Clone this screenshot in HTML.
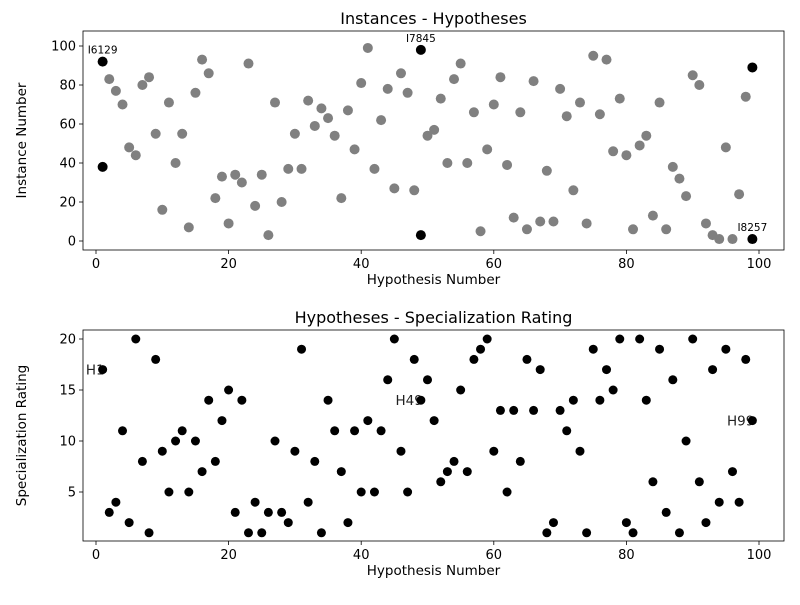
<!DOCTYPE html>
<html><head><meta charset="utf-8"><style>
body{margin:0;background:#fff}
svg{font-family:"DejaVu Sans","Liberation Sans",sans-serif}
</style></head><body>
<svg id="c" width="800" height="600" xmlns="http://www.w3.org/2000/svg"></svg>
<script>
const hypX = [];
for (let i = 1; i <= 99; i++) hypX.push(i);
const grayX = [2,3,4,5,6,7,8,9,10,11,12,13,14,15,16,17,18,19,20,21,22,23,24,25,26,27,28,29,30,31,32,33,34,35,36,37,38,39,40,41,42,43,44,45,46,47,48,50,51,52,53,54,55,56,57,58,59,60,61,62,63,64,65,66,67,68,69,70,71,72,73,74,75,76,77,78,79,80,81,82,83,84,85,86,87,88,89,90,91,92,93,94,95,96,97,98];
const grayY = [83,77,70,48,44,80,84,55,16,71,40,55,7,76,93,86,22,33,9,34,30,91,18,34,3,71,20,37,55,37,72,59,68,63,54,22,67,47,81,99,37,62,78,27,86,76,26,54,57,73,40,83,91,40,66,5,47,70,84,39,12,66,6,82,10,36,10,78,64,26,71,9,95,65,93,46,73,44,6,49,54,13,71,6,38,32,23,85,80,9,3,1,48,1,24,74];
const hiX = [1,1,49,49,99,99];
const hiY = [92,38,98,3,89,1];
const instLabels = ["I6129","I7845","I8257"];
const instLabelX = [1,49,99];
const instLabelY = [92,98,1];
const rating = [17,3,4,11,2,20,8,1,18,9,5,10,11,5,10,7,14,8,12,15,3,14,1,4,1,3,10,3,2,9,19,4,8,1,14,11,7,2,11,5,12,5,11,16,20,9,5,18,14,16,12,6,7,8,15,7,18,19,20,9,13,5,13,8,18,13,17,1,2,13,11,14,9,1,19,14,17,15,20,2,1,20,14,6,19,3,16,1,10,20,6,2,17,4,19,7,4,18,12];
const hypLabels = ["H1","H49","H99"];
const hypLabelX = [1,49,99];
const xTicks = [0,20,40,60,80,100];
const topYTicks = [0,20,40,60,80,100];
const botYTicks = [5,10,15,20];

const NS="http://www.w3.org/2000/svg";
const svg=document.getElementById('c');
function el(t,a,p){const e=document.createElementNS(NS,t);for(const k in a)e.setAttribute(k,a[k]);(p||svg).appendChild(e);return e;}
function txt(s,a,p){const e=el('text',a,p);e.textContent=s;return e;}

const L=83,R=784;
const sx=v=>96+(v-0)*(759-96)/100;
const T={top:31,bot:250,y:v=>241-v*1.95};
const B={top:330,bot:541,y:v=>543-v*10.2};

function axes(P,yt,name,title,ylabel){
  const g=el('g',{});
  
  
  xTicks.forEach(t=>{const x=sx(t);
    el('line',{x1:x,x2:x,y1:P.bot,y2:P.bot+4,stroke:'#000','stroke-width':0.8},g);
    const tl=txt(t,{x:x,y:P.bot+18,'text-anchor':'middle','font-size':13},g);
    
    });
  yt.forEach(t=>{const y=P.y(t);
    el('line',{x1:L-4,x2:L,y1:y,y2:y,stroke:'#000','stroke-width':0.8},g);
    const tl=txt(t,{x:L-7,y:y+4.5,'text-anchor':'end','font-size':13},g);
    
    });
  const tt=txt(title,{x:(L+R)/2,y:P.top-7,'text-anchor':'middle','font-size':16},g);
  
  
  const xl=txt('Hypothesis Number',{x:(L+R)/2,y:P.bot+34,'text-anchor':'middle','font-size':13.5},g);
  
  
  const cy=(P.top+P.bot)/2;
  const yl=txt(ylabel,{x:26,y:cy,'text-anchor':'middle','font-size':13.5,transform:`rotate(-90 26 ${cy})`},g);
  
  
  return g;
}
function frame(P){const r=el('rect',{x:L,y:P.top,width:R-L,height:P.bot-P.top,fill:'none',stroke:'#000','stroke-width':0.8});
  
  }

// top
axes(T,topYTicks,'top-axes','Instances - Hypotheses','Instance Number');
grayX.forEach((x,i)=>{const c=el('circle',{cx:sx(x),cy:T.y(grayY[i]),r:5,fill:'#808080'});
  
  });
hiX.forEach((x,i)=>{const c=el('circle',{cx:sx(x),cy:T.y(hiY[i]),r:5,fill:'#000'});
  
  });
instLabels.forEach((s,i)=>{const t=txt(s,{x:sx(instLabelX[i]),y:T.y(instLabelY[i])-8,'text-anchor':'middle','font-size':10.5});
  
  });
frame(T);

// bottom
axes(B,botYTicks,'bottom-axes','Hypotheses - Specialization Rating','Specialization Rating');
hypLabels.forEach((s,i)=>{const x=hypLabelX[i];const t=txt(s,{x:sx(x)+2,y:B.y(rating[x-1])+5,'text-anchor':'end','font-size':13.5,fill:'#222'});
  
  });
hypX.forEach((x,i)=>{const c=el('circle',{cx:sx(x),cy:B.y(rating[i]),r:4.5,fill:'#000'});
  
  });
frame(B);
</script>
</body></html>
